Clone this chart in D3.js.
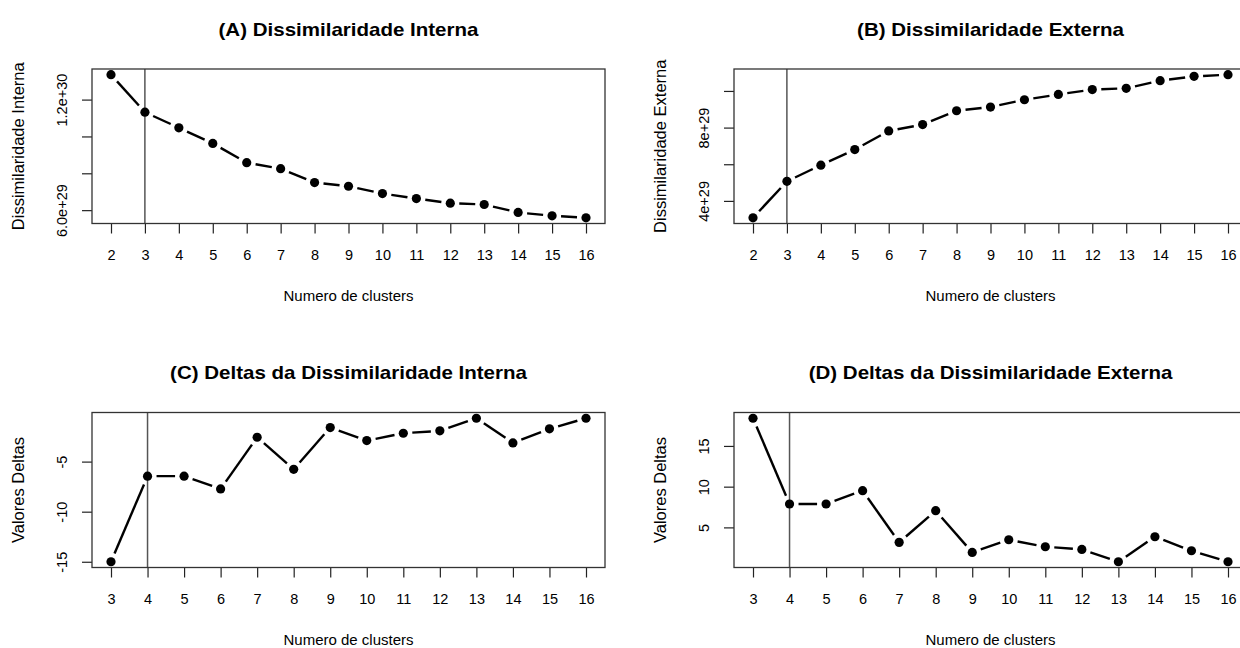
<!DOCTYPE html>
<html><head><meta charset="utf-8">
<script src="https://cdn.jsdelivr.net/npm/d3@7"></script>
<style>
html,body{margin:0;padding:0;background:#fff;}
svg text{font-family:"Liberation Sans",Arial,Helvetica,sans-serif;fill:#000;}
</style></head>
<body>
<svg id="chart" width="1240" height="648"></svg>
<script>
// ---- data ----
const clustersAB = [2,3,4,5,6,7,8,9,10,11,12,13,14,15,16];
const clustersCD = [3,4,5,6,7,8,9,10,11,12,13,14,15,16];
const dissimInterna = [1.335e30,1.1315e30,1.047e30,9.62e29,8.577e29,8.25e29,7.495e29,7.297e29,6.90e29,6.63e29,6.378e29,6.306e29,5.874e29,5.694e29,5.586e29];
const dissimExterna = [3.079e29,5.066e29,5.951e29,6.80e29,7.82e29,8.163e29,8.92e29,9.12e29,9.518e29,9.81e29,1.0072e30,1.0145e30,1.056e30,1.0795e30,1.0885e30];
const deltasInterna = [-15.0,-6.45,-6.45,-7.73,-2.57,-5.77,-1.6,-2.9,-2.17,-1.93,-0.67,-3.13,-1.73,-0.67];
const deltasExterna = [18.4,7.87,7.87,9.51,3.16,7.05,1.93,3.48,2.62,2.3,0.78,3.85,2.13,0.78];
const yTicksA = [6e29,8e29,1e30,1.2e30];
const yLabelsA = ["6.0e+29","","","1.2e+30"];
const yTicksB = [4e29,6e29,8e29,1e30];
const yLabelsB = ["4e+29","","8e+29",""];
const yTicksC = [-15,-10,-5];
const yLabelsC = ["-15","-10","-5"];
const yTicksD = [5,10,15];
const yLabelsD = ["5","10","15"];
const titles = ["(A) Dissimilaridade Interna","(B) Dissimilaridade Externa","(C) Deltas da Dissimilaridade Interna","(D) Deltas da Dissimilaridade Externa"];
const yTitles = ["Dissimilaridade Interna","Dissimilaridade Externa","Valores Deltas","Valores Deltas"];
const xTitle = "Numero de clusters";
const vlineAB = 3, vlineCD = 4;

const panels = [
  {x:clustersAB, y:dissimInterna, yt:yTicksA, yl:yLabelsA, title:titles[0], ytitle:yTitles[0], vline:vlineAB, vcol:"#000", vw:1, box:{l:92,t:69,r:605,b:223.5}},
  {x:clustersAB, y:dissimExterna, yt:yTicksB, yl:yLabelsB, title:titles[1], ytitle:yTitles[1], vline:vlineAB, vcol:"#000", vw:1, box:{l:734,t:69,r:1247,b:223.5}},
  {x:clustersCD, y:deltasInterna, yt:yTicksC, yl:yLabelsC, title:titles[2], ytitle:yTitles[2], vline:vlineCD, vcol:"#555", vw:1.5, box:{l:92,t:412.5,r:605,b:567.5}},
  {x:clustersCD, y:deltasExterna, yt:yTicksD, yl:yLabelsD, title:titles[3], ytitle:yTitles[3], vline:vlineCD, vcol:"#555", vw:1.5, box:{l:734,t:412.5,r:1247,b:567.5}}
];

const svg = d3.select("#chart");
function padded(ext){const r=ext[1]-ext[0];return [ext[0]-0.04*r, ext[1]+0.04*r];}

panels.forEach(p=>{
  const b=p.box;
  const xs=d3.scaleLinear().domain(padded(d3.extent(p.x))).range([b.l,b.r]);
  const ys=d3.scaleLinear().domain(padded(d3.extent(p.y))).range([b.b,b.t]);
  const g=svg.append("g");
  const clipId="clip"+b.l+"_"+Math.round(b.t);
  g.append("clipPath").attr("id",clipId).append("rect").attr("x",b.l).attr("y",b.t).attr("width",b.r-b.l).attr("height",b.b-b.t);

  // x axis
  const xa=g.append("g").attr("transform",`translate(0,${b.b})`)
    .call(d3.axisBottom(xs).tickValues(p.x).tickFormat(d3.format("d")).tickSize(10).tickPadding(16));
  xa.select(".domain").remove();
  xa.selectAll("line").attr("stroke","#222").attr("stroke-width",1.2);
  xa.selectAll("text").attr("font-size",14.5).attr("fill","#000").attr("font-family","Liberation Sans, Arial, sans-serif");

  // y axis
  const ya=g.append("g").attr("transform",`translate(${b.l},0)`)
    .call(d3.axisLeft(ys).tickValues(p.yt).tickFormat((d,i)=>p.yl[i]).tickSize(10).tickPadding(0));
  ya.select(".domain").remove();
  ya.selectAll("line").attr("stroke","#222").attr("stroke-width",1.2);
  ya.selectAll(".tick text").attr("font-size",14.5).attr("fill","#000").attr("font-family","Liberation Sans, Arial, sans-serif")
    .attr("text-anchor","middle").attr("transform","translate(-30,0) rotate(-90)").attr("x",0).attr("y",0).attr("dy","0.35em");

  // vertical line
  g.append("line").attr("x1",xs(p.vline)).attr("x2",xs(p.vline)).attr("y1",b.t).attr("y2",b.b)
    .attr("stroke",p.vcol).attr("stroke-width",p.vw);

  // segments with gaps (type = "b")
  const pts=p.x.map((d,i)=>[xs(d),ys(p.y[i])]);
  const gap=9;
  const segs=[];
  for(let i=0;i<pts.length-1;i++){
    const [x1,y1]=pts[i],[x2,y2]=pts[i+1];
    const dx=x2-x1,dy=y2-y1,len=Math.hypot(dx,dy);
    if(len>2*gap){const ux=dx/len,uy=dy/len;segs.push([x1+ux*gap,y1+uy*gap,x2-ux*gap,y2-uy*gap]);}
  }
  g.append("g").attr("clip-path",`url(#${clipId})`).selectAll("line.seg").data(segs).join("line").attr("class","seg")
    .attr("x1",d=>d[0]).attr("y1",d=>d[1]).attr("x2",d=>d[2]).attr("y2",d=>d[3])
    .attr("stroke","#000").attr("stroke-width",2.4);
  g.selectAll("circle").data(p.x.map((d,i)=>({x:d,y:p.y[i]}))).join("circle")
    .attr("cx",d=>xs(d.x)).attr("cy",d=>ys(d.y)).attr("r",4.6).attr("fill","#000");

  // box
  g.append("rect").attr("x",b.l).attr("y",b.t).attr("width",b.r-b.l).attr("height",b.b-b.t)
    .attr("fill","none").attr("stroke","#333").attr("stroke-width",1.3);

  const cx=(b.l+b.r)/2;
  // title
  g.append("text").attr("transform",`translate(${cx},${b.t-33.5}) scale(1.14,1)`).attr("text-anchor","middle")
    .attr("font-size",18).attr("font-weight","bold").text(p.title);
  // x title
  g.append("text").attr("x",cx).attr("y",b.b+77.5).attr("text-anchor","middle").attr("font-size",15).text(xTitle);
  // y title
  g.append("text").attr("transform",`translate(${b.l-74},${(b.t+b.b)/2}) rotate(-90)`).attr("text-anchor","middle")
    .attr("dy","0.35em").attr("font-size",16.5).text(p.ytitle);
});
</script>
</body></html>
